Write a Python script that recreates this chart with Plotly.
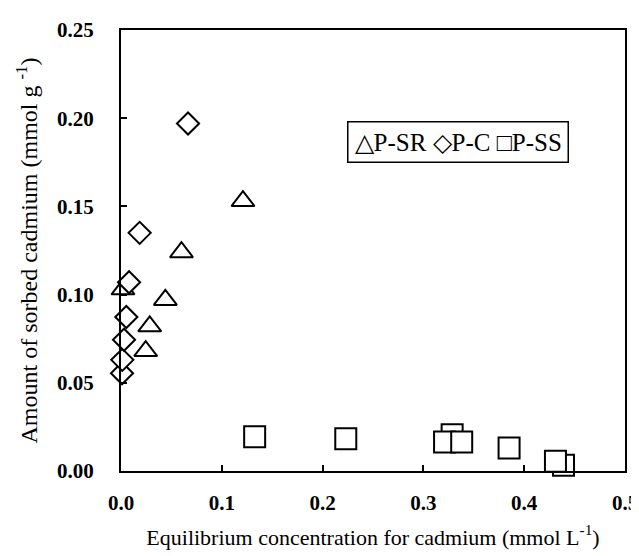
import plotly.graph_objects as go

# P-SR (triangles)
sr_x = [0.002, 0.0245, 0.0285, 0.044, 0.060, 0.121]
sr_y = [0.103, 0.068, 0.082, 0.097, 0.124, 0.153]
# P-C (diamonds)
c_x = [0.001, 0.0013, 0.003, 0.0053, 0.008, 0.0185, 0.0665]
c_y = [0.0554, 0.063, 0.0744, 0.0873, 0.107, 0.135, 0.197]
# P-SS (squares)
ss_x = [0.1326, 0.223, 0.3285, 0.321, 0.338, 0.385, 0.439, 0.431]
ss_y = [0.0194, 0.0183, 0.0206, 0.0164, 0.0164, 0.013, 0.0032, 0.0055]

x_ticks = [0.0, 0.1, 0.2, 0.3, 0.4, 0.5]
x_ticklabels = ["0.0", "0.1", "0.2", "0.3", "0.4", "0.5"]
y_ticks = [0.0, 0.05, 0.10, 0.15, 0.20, 0.25]
y_ticklabels = ["0.00", "0.05", "0.10", "0.15", "0.20", "0.25"]

FONT = "Liberation Serif"

fig = go.Figure()

def add(xs, ys, sym, size, name):
    fig.add_trace(go.Scatter(
        x=xs, y=ys, mode="markers", name=name, cliponaxis=False,
        marker=dict(symbol=sym, size=size, color="white",
                    line=dict(color="black", width=2)),
        showlegend=False))

add(sr_x, sr_y, "triangle-up", 20, "P-SR")
add(c_x, c_y, "diamond", 17, "P-C")
add(ss_x, ss_y, "square", 21, "P-SS")

fig.add_annotation(
    x=0.334, y=0.1865, xref="x", yref="y",
    text="△P-SR ◇P-C □P-SS", showarrow=False,
    font=dict(family=FONT, size=25, color="black"),
    bordercolor="black", borderwidth=1.5, borderpad=6,
    bgcolor="white", xanchor="center", yanchor="middle")

axis_common = dict(
    showline=True, linecolor="black", linewidth=2, mirror=True,
    ticks="inside", ticklen=6, tickwidth=2, tickcolor="black",
    showgrid=False, zeroline=False, automargin=False,
    tickfont=dict(family=FONT, size=21, color="black", weight="bold"),
)

fig.update_xaxes(
    range=[0, 0.5], tickvals=x_ticks, ticktext=x_ticklabels,
    title=dict(text="Equilibrium concentration for cadmium (mmol L<sup>-1</sup>)",
               font=dict(family=FONT, size=22, color="black"), standoff=15),
    ticklabelstandoff=12,
    **axis_common)
fig.update_yaxes(
    range=[0, 0.25], tickvals=y_ticks, ticktext=y_ticklabels,
    title=dict(text="Amount of sorbed cadmium (mmol g <sup>-1</sup>)",
               font=dict(family=FONT, size=24, color="black"), standoff=13),
    ticklabelstandoff=21,
    **axis_common)

fig.update_layout(
    width=639, height=556,
    margin=dict(l=113, r=22, t=22, b=93),
    plot_bgcolor="white", paper_bgcolor="white",
    font=dict(family=FONT, color="black"),
)

fig.write_html("out.html")
